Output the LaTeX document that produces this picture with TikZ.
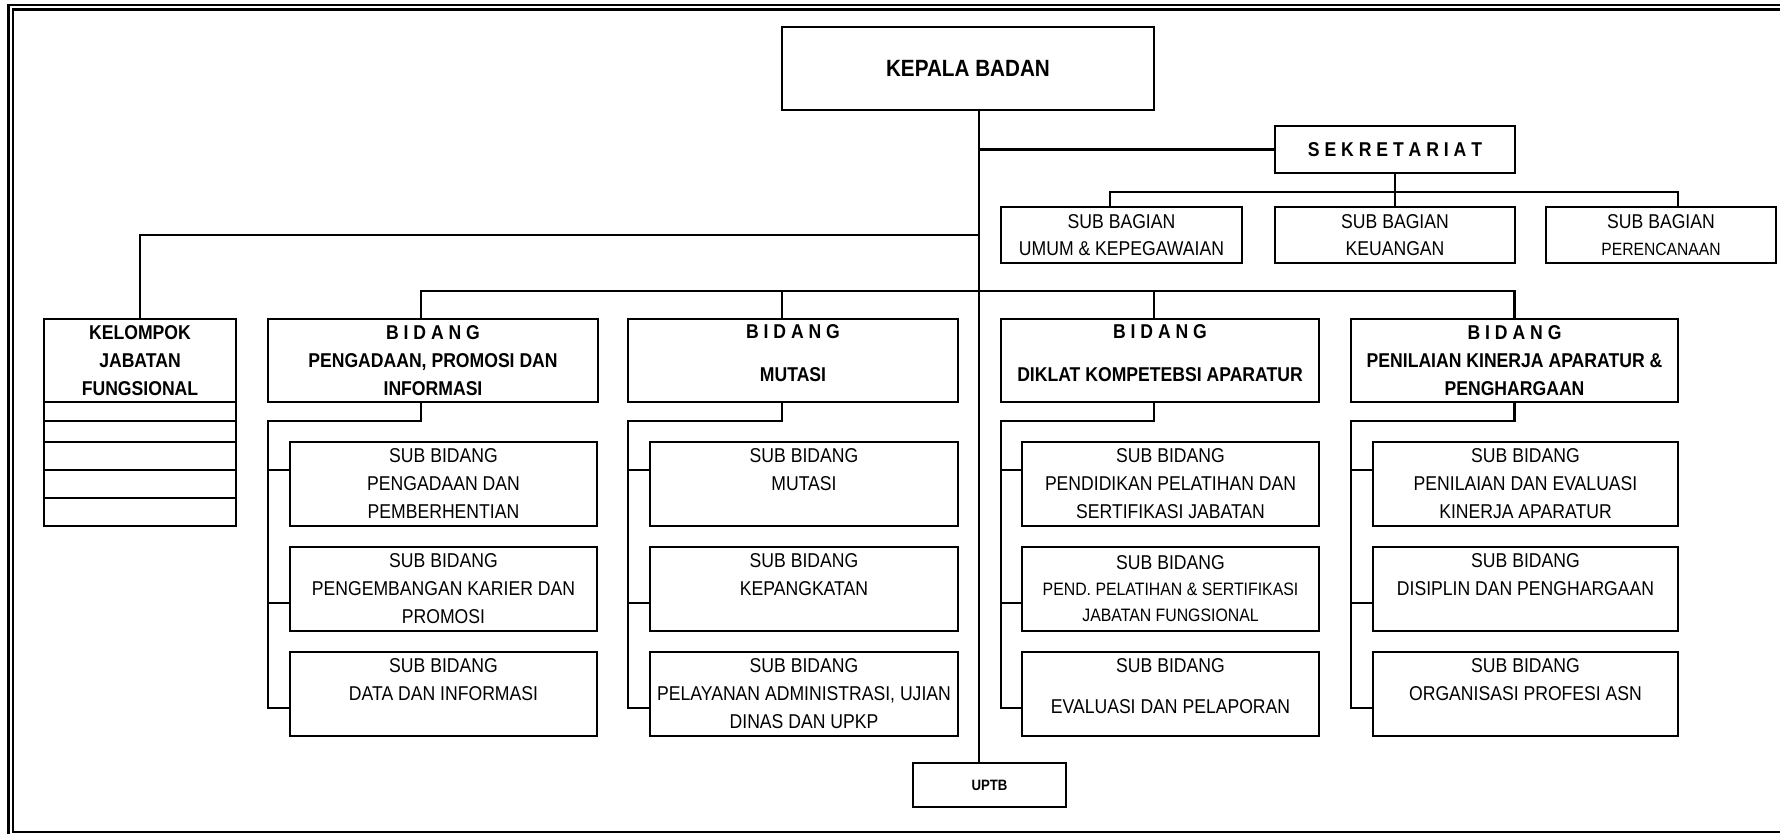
\documentclass[tikz,border=0pt]{standalone}
\usepackage{fontspec}
\setmainfont{Liberation Sans}[FakeStretch=0.88]
\newcommand\fnReg{\fontsize{20}{28}\selectfont}
\newcommand\fnBag{\fontsize{20}{27}\selectfont}
\newcommand\fnBold{\fontsize{20}{28}\selectfont\bfseries}
\begin{document}
\begin{tikzpicture}[x=1pt,y=-1pt,
  lw/.style={line width=2.1pt},
  box/.style={draw,lw,inner sep=0pt,outer sep=0pt,align=center,font=\fnReg},
  bbox/.style={box,font=\fnBold},
  bidang/.style={bbox,minimum height=83pt},
  sub/.style={box,minimum height=84pt},
  bag/.style={box,font=\fnBag,minimum height=56pt},
  krow/.style={draw,lw,inner sep=0pt,outer sep=0pt,minimum width=192pt},
  conn/.style={lw}]
\useasboundingbox (0,0) rectangle (1780,834);
% page frame
\draw[lw] (8.5,834) -- (8.5,5) -- (1780,5);
\draw[lw] (1780,9.5) -- (12.8,9.5) -- (12.8,832) -- (1780,832);

% head
\node[bbox,font=\fontsize{23.5}{28}\selectfont\bfseries,minimum width=372pt,minimum height=83pt] (kb) at (968,68.5) {KEPALA BADAN};
\node[bbox,minimum width=240pt,minimum height=47pt] (sek) at (1395,149.5) {S E K R E T A R I A T};
\node[bag,minimum width=241pt] (sb1) at (1121.5,235) {SUB BAGIAN\\UMUM \& KEPEGAWAIAN};
\node[bag,minimum width=240pt] (sb2) at (1395,235) {SUB BAGIAN\\KEUANGAN};
\node[bag,minimum width=230pt] (sb3) at (1661,235) {SUB BAGIAN\\{\fontsize{17.8}{27}\selectfont PERENCANAAN}};

% kelompok jabatan fungsional
\node[bbox,minimum width=192pt,minimum height=83pt] (kjf) at (140,360.5) {KELOMPOK\\JABATAN\\FUNGSIONAL};
\node[krow,minimum height=19pt] (kr1) at (140,411.5) {};
\node[krow,minimum height=21pt] (kr2) at (140,431.5) {};
\node[krow,minimum height=28pt] (kr3) at (140,456) {};
\node[krow,minimum height=28pt] (kr4) at (140,484) {};
\node[krow,minimum height=28pt] (kr5) at (140,512) {};

% bidang
\node[bidang,minimum width=330pt] (b1) at (433,360.5) {B I D A N G\\PENGADAAN, PROMOSI DAN\\INFORMASI};
\node[bidang,minimum width=330pt,text depth=14pt] (b2) at (793,360.5) {B I D A N G\\[15pt]MUTASI};
\node[bidang,minimum width=318pt,text depth=14pt] (b3) at (1160,360.5) {B I D A N G\\[15pt]DIKLAT KOMPETEBSI APARATUR};
\node[bidang,minimum width=327pt] (b4) at (1514.5,360.5) {B I D A N G\\PENILAIAN KINERJA APARATUR \&\\PENGHARGAAN};

% sub bidang column 1
\node[sub,minimum width=307pt] (c11) at (443.5,484) {SUB BIDANG\\PENGADAAN DAN\\PEMBERHENTIAN};
\node[sub,minimum width=307pt] (c12) at (443.5,589) {SUB BIDANG\\PENGEMBANGAN KARIER DAN\\PROMOSI};
\node[sub,minimum width=307pt] (c13) at (443.5,694) {SUB BIDANG\\DATA DAN INFORMASI\\\mbox{}};
% column 2
\node[sub,minimum width=308pt] (c21) at (804,484) {SUB BIDANG\\MUTASI\\\mbox{}};
\node[sub,minimum width=308pt] (c22) at (804,589) {SUB BIDANG\\KEPANGKATAN\\\mbox{}};
\node[sub,minimum width=308pt] (c23) at (804,694) {SUB BIDANG\\PELAYANAN ADMINISTRASI, UJIAN\\DINAS DAN UPKP};
% column 3
\node[sub,minimum width=297pt] (c31) at (1170.5,484) {SUB BIDANG\\PENDIDIKAN PELATIHAN DAN\\SERTIFIKASI JABATAN};
\node[sub,minimum width=297pt,font=\fontsize{18}{26}\selectfont] (c32) at (1170.5,589) {{\fontsize{20}{26}\selectfont SUB BIDANG}\\PEND. PELATIHAN \& SERTIFIKASI\\JABATAN FUNGSIONAL};
\node[sub,minimum width=297pt,text depth=15pt] (c33) at (1170.5,694) {SUB BIDANG\\[13pt]EVALUASI DAN PELAPORAN};
% column 4
\node[sub,minimum width=305pt] (c41) at (1525.5,484) {SUB BIDANG\\PENILAIAN DAN EVALUASI\\KINERJA APARATUR};
\node[sub,minimum width=305pt] (c42) at (1525.5,589) {SUB BIDANG\\DISIPLIN DAN PENGHARGAAN\\\mbox{}};
\node[sub,minimum width=305pt] (c43) at (1525.5,694) {SUB BIDANG\\ORGANISASI PROFESI ASN\\\mbox{}};

% UPTB
\node[bbox,font=\fontsize{15}{18}\selectfont\bfseries,minimum width=153pt,minimum height=44pt] (uptb) at (989.5,785) {UPTB};

% helper coordinates
\coordinate (tr) at (979,0);
\coordinate (sbL) at (1110,192);
\coordinate (sbR) at (1678,192);
\coordinate (kj) at (140,235);
\coordinate (d1) at (421,291);
\coordinate (d2) at (782,291);
\coordinate (d3) at (1154,291);
\coordinate (d4) at (1514.5,291);
\coordinate (s1) at (268,0);
\coordinate (s2) at (628,0);
\coordinate (s3) at (1001,0);
\coordinate (s4) at (1351,0);
\coordinate (rs) at (0,421);
\coordinate (r1) at (0,470);
\coordinate (r2) at (0,603);
\coordinate (r3) at (0,708);

% trunk
\draw[conn] (kb.south -| tr) -- (uptb.north -| tr);
% sekretariat
\draw[conn] (tr |- sek.west) -- (sek.west);
\draw[conn] (sek.south) -- (sb2.north);
\draw[conn] (sbL |- sb1.north) -- (sbL) -- (sbR) -- (sbR |- sb3.north);
% kelompok
\draw[conn] (tr |- kj) -- (kj) -- (kjf.north);
% bidang bus
\draw[conn] (d1 |- b1.north) -- (d1) -- (d4) -- (b4.north);
\draw[conn] (d2) -- (d2 |- b2.north);
\draw[conn] (d3) -- (d3 |- b3.north);

% column 1
\draw[conn] (d1 |- b1.south) -- (d1 |- rs) -- (s1 |- rs) -- (s1 |- r3) -- (c13.west |- r3);
\draw[conn] (s1 |- r1) -- (c11.west |- r1);
\draw[conn] (s1 |- r2) -- (c12.west |- r2);
% column 2
\draw[conn] (d2 |- b2.south) -- (d2 |- rs) -- (s2 |- rs) -- (s2 |- r3) -- (c23.west |- r3);
\draw[conn] (s2 |- r1) -- (c21.west |- r1);
\draw[conn] (s2 |- r2) -- (c22.west |- r2);
% column 3
\draw[conn] (d3 |- b3.south) -- (d3 |- rs) -- (s3 |- rs) -- (s3 |- r3) -- (c33.west |- r3);
\draw[conn] (s3 |- r1) -- (c31.west |- r1);
\draw[conn] (s3 |- r2) -- (c32.west |- r2);
% column 4
\draw[conn] (d4 |- b4.south) -- (d4 |- rs) -- (s4 |- rs) -- (s4 |- r3) -- (c43.west |- r3);
\draw[conn] (s4 |- r1) -- (c41.west |- r1);
\draw[conn] (s4 |- r2) -- (c42.west |- r2);
\end{tikzpicture}
\end{document}
